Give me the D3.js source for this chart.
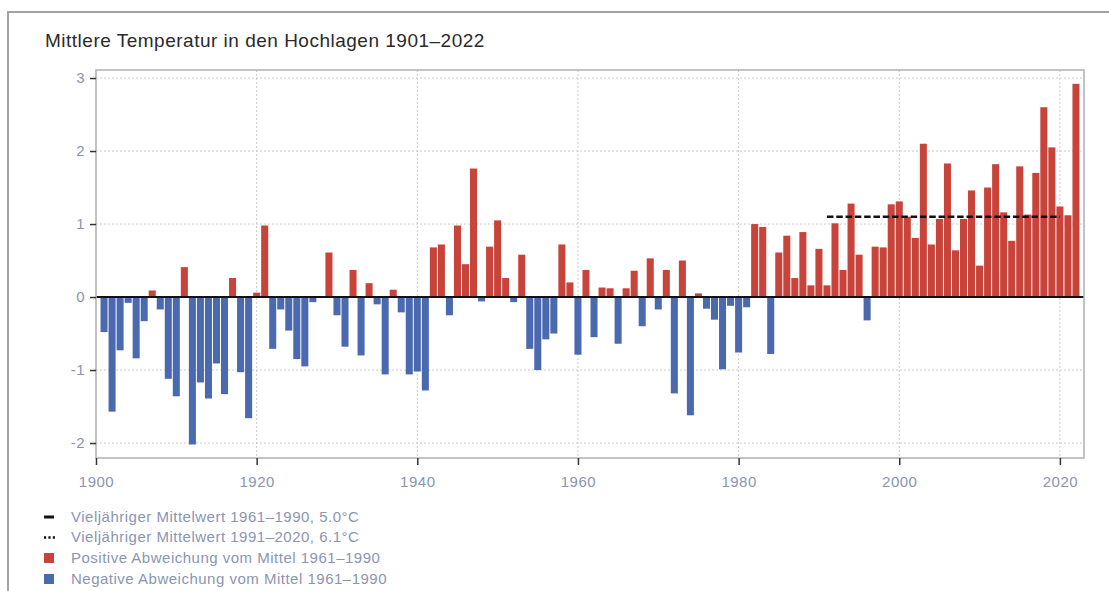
<!DOCTYPE html>
<html>
<head>
<meta charset="utf-8">
<script src="https://cdn.jsdelivr.net/npm/d3@7"></script>
<style>
  body { margin: 0; background: #fff; }
  svg text { font-family: "Liberation Sans", Arial, Helvetica, sans-serif; }
</style>
</head>
<body>
<div id="chart"></div>
<script>
// deviation from the 1961-1990 mean, one value per year starting 1901
const firstYear = 1901;
const anomalies = [
  -0.48, -1.57, -0.73, -0.08, -0.84, -0.33, 0.09, -0.17, -1.12, -1.36,   // 1901-1910
  0.41, -2.02, -1.17, -1.39, -0.91, -1.33, 0.26, -1.03, -1.66, 0.06,     // 1911-1920
  0.98, -0.71, -0.17, -0.46, -0.85, -0.95, -0.07, 0.00, 0.61, -0.25,     // 1921-1930
  -0.68, 0.37, -0.80, 0.19, -0.10, -1.06, 0.10, -0.21, -1.06, -1.02,     // 1931-1940
  -1.28, 0.68, 0.72, -0.25, 0.98, 0.45, 1.76, -0.06, 0.69, 1.05,         // 1941-1950
  0.26, -0.07, 0.58, -0.71, -1.00, -0.58, -0.50, 0.72, 0.20, -0.79,      // 1951-1960
  0.37, -0.55, 0.13, 0.12, -0.64, 0.12, 0.36, -0.40, 0.53, -0.17,        // 1961-1970
  0.37, -1.32, 0.50, -1.62, 0.05, -0.16, -0.31, -0.99, -0.12, -0.76,     // 1971-1980
  -0.14, 1.00, 0.96, -0.78, 0.61, 0.84, 0.26, 0.89, 0.16, 0.66,          // 1981-1990
  0.16, 1.01, 0.37, 1.28, 0.58, -0.32, 0.69, 0.68, 1.27, 1.31,           // 1991-2000
  1.10, 0.81, 2.10, 0.72, 1.07, 1.83, 0.64, 1.07, 1.46, 0.43,            // 2001-2010
  1.50, 1.82, 1.16, 0.77, 1.79, 1.13, 1.70, 2.60, 2.05, 1.24,            // 2011-2020
  1.12, 2.92                                                              // 2021-2022
];
const years = d3.range(firstYear, firstYear + anomalies.length);

// 1991-2020 mean (6.1 °C) relative to 1961-1990 mean (5.0 °C)
const newMeanYears = [1991, 2020];
const newMeanDiff = 1.1;

const yTicks = [-2, -1, 0, 1, 2, 3];
const xTicks = [1900, 1920, 1940, 1960, 1980, 2000, 2020];

const titleText = "Mittlere Temperatur in den Hochlagen 1901–2022";
const legendLabels = [
  "Vieljähriger Mittelwert 1961–1990, 5.0°C",
  "Vieljähriger Mittelwert 1991–2020, 6.1°C",
  "Positive Abweichung vom Mittel 1961–1990",
  "Negative Abweichung vom Mittel 1961–1990"
];

const red = "#c8433a", blue = "#4b69ae", labelColor = "#8a95b3";

const W = 1109, H = 591;
const plot = { left: 96, right: 1084, top: 70, bottom: 458 };

const svg = d3.select("#chart")
  .append("svg")
  .attr("width", W)
  .attr("height", H);

// outer frame of the figure
svg.append("rect")
  .attr("x", 8).attr("y", 12)
  .attr("width", W + 20).attr("height", H + 20)
  .attr("fill", "none")
  .attr("stroke", "#a2a2a2")
  .attr("stroke-width", 2);

svg.append("text")
  .attr("x", 45).attr("y", 47)
  .attr("font-size", "19px")
  .attr("letter-spacing", "0.5px")
  .attr("fill", "#2a2a2a")
  .text(titleText);

const x = d3.scaleLinear()
  .domain([1900, 2023])
  .range([plot.left, plot.right]);

const y = d3.scaleLinear()
  .domain([-2.205, 3.11])
  .range([plot.bottom, plot.top]);

// grid
svg.append("g")
  .selectAll("line")
  .data(yTicks.filter(d => d !== 0))
  .join("line")
  .attr("x1", plot.left).attr("x2", plot.right)
  .attr("y1", d => y(d)).attr("y2", d => y(d))
  .attr("stroke", "#c9c9c9")
  .attr("stroke-width", 1)
  .attr("stroke-dasharray", "2,2");

svg.append("g")
  .selectAll("line")
  .data(xTicks.slice(1))
  .join("line")
  .attr("x1", d => x(d)).attr("x2", d => x(d))
  .attr("y1", plot.top).attr("y2", plot.bottom)
  .attr("stroke", "#c9c9c9")
  .attr("stroke-width", 1)
  .attr("stroke-dasharray", "2,2");

// bars
const step = x(1901) - x(1900);
const bw = step - 1;
svg.append("g")
  .selectAll("rect")
  .data(years.map((yr, i) => [yr, anomalies[i]]))
  .join("rect")
  .attr("x", d => x(d[0]) - bw / 2)
  .attr("width", bw)
  .attr("y", d => y(Math.max(0, d[1])))
  .attr("height", d => Math.abs(y(d[1]) - y(0)))
  .attr("fill", d => d[1] >= 0 ? red : blue);

// zero line = 1961-1990 mean
svg.append("line")
  .attr("x1", plot.left).attr("x2", plot.right)
  .attr("y1", y(0)).attr("y2", y(0))
  .attr("stroke", "#111")
  .attr("stroke-width", 2);

// 1991-2020 mean
svg.append("line")
  .attr("x1", x(newMeanYears[0])).attr("x2", x(newMeanYears[1]))
  .attr("y1", y(newMeanDiff)).attr("y2", y(newMeanDiff))
  .attr("stroke", "#111")
  .attr("stroke-width", 2.5)
  .attr("stroke-dasharray", "6.5,2.8");

// plot border
svg.append("rect")
  .attr("x", plot.left).attr("y", plot.top)
  .attr("width", plot.right - plot.left)
  .attr("height", plot.bottom - plot.top)
  .attr("fill", "none")
  .attr("stroke", "#b4b4b4")
  .attr("stroke-width", 1.6);

// axes
const yAxis = svg.append("g")
  .attr("transform", `translate(${plot.left},0)`)
  .call(d3.axisLeft(y).tickValues(yTicks).tickSize(6).tickPadding(5)
    .tickFormat(d => String(d)));
yAxis.select(".domain").remove();
yAxis.selectAll("line").attr("stroke", "#333").attr("stroke-width", 1.5);
yAxis.selectAll("text")
  .attr("fill", labelColor)
  .attr("font-size", "15px")
  .attr("letter-spacing", "0.4px");

const xAxis = svg.append("g")
  .attr("transform", `translate(0,${plot.bottom})`)
  .call(d3.axisBottom(x).tickValues(xTicks).tickSize(7).tickPadding(11)
    .tickFormat(d => String(d)));
xAxis.select(".domain").remove();
xAxis.selectAll("line").attr("stroke", "#333").attr("stroke-width", 1.5);
xAxis.selectAll("text")
  .attr("fill", labelColor)
  .attr("font-size", "15px")
  .attr("letter-spacing", "0.5px");

// legend
const legend = svg.append("g");
const rowY = [522, 542, 563, 584];

legend.append("line")
  .attr("x1", 44).attr("x2", 54)
  .attr("y1", rowY[0] - 5).attr("y2", rowY[0] - 5)
  .attr("stroke", "#111").attr("stroke-width", 3);

legend.append("line")
  .attr("x1", 44).attr("x2", 55)
  .attr("y1", rowY[1] - 4.5).attr("y2", rowY[1] - 4.5)
  .attr("stroke", "#111").attr("stroke-width", 2.5)
  .attr("stroke-dasharray", "2.2,2.2");

legend.append("rect")
  .attr("x", 44).attr("y", rowY[2] - 10)
  .attr("width", 10).attr("height", 10)
  .attr("fill", red);

legend.append("rect")
  .attr("x", 44).attr("y", rowY[3] - 10)
  .attr("width", 10).attr("height", 10)
  .attr("fill", blue);

legend.selectAll("text")
  .data(legendLabels)
  .join("text")
  .attr("x", 71)
  .attr("y", (d, i) => rowY[i])
  .attr("font-size", "15px")
  .attr("letter-spacing", "0.5px")
  .attr("fill", labelColor)
  .text(d => d);
</script>
</body>
</html>
